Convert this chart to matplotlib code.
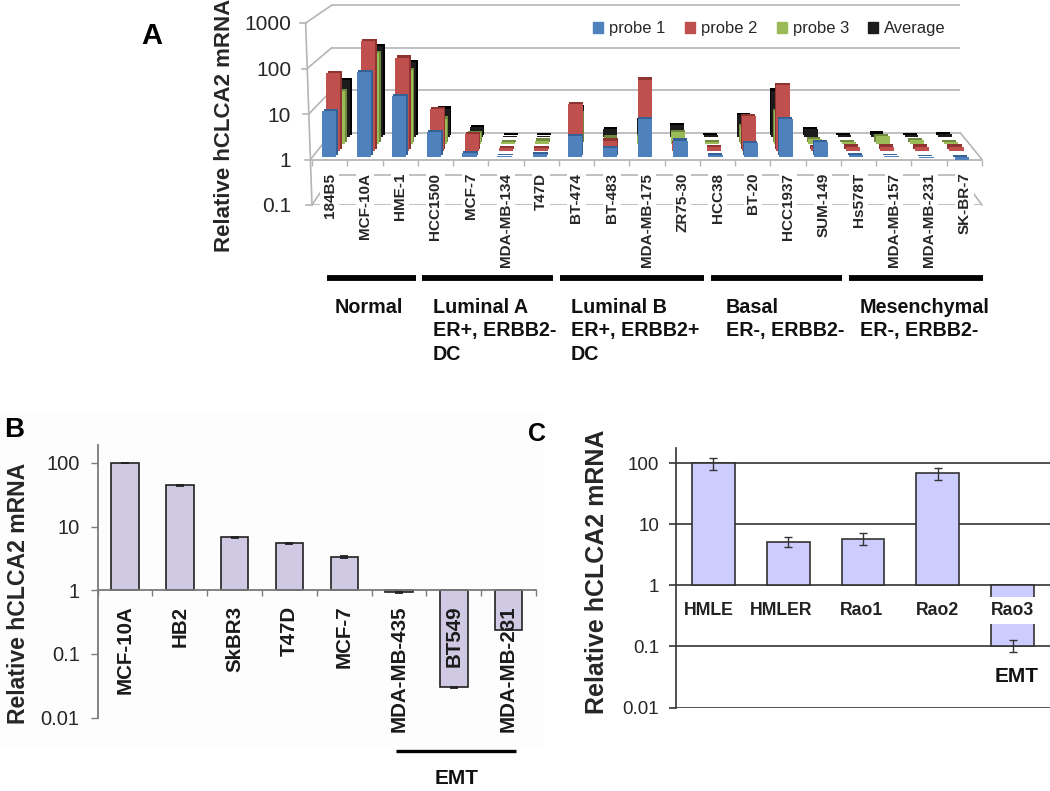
import numpy as np
import matplotlib
matplotlib.use("Agg")
import matplotlib.pyplot as plt
import matplotlib.patheffects as pe
from matplotlib.patches import ConnectionPatch, Patch, Rectangle
from matplotlib.ticker import NullLocator

plt.rcParams['font.family'] = ['Liberation Sans', 'DejaVu Sans']

# ---------- data ----------
cells_a = ['184B5', 'MCF-10A', 'HME-1', 'HCC1500', 'MCF-7', 'MDA-MB-134', 'T47D', 'BT-474', 'BT-483',
           'MDA-MB-175', 'ZR75-30', 'HCC38', 'BT-20', 'HCC1937', 'SUM-149', 'Hs578T', 'MDA-MB-157',
           'MDA-MB-231', 'SK-BR-7']
probe1 = [10.5, 75, 22, 3.6, 1.2, 1.06, 1.15, 2.9, 1.6, 7, 2.3, 1.1, 2, 7, 2.1, 1.1, 1.03, 0.95, 0.88]
probe2 = [55, 290, 125, 8.5, 2.4, 1.15, 1.15, 11, 1.7, 40, 1.5, 1.2, 6, 30, 1.2, 1.25, 1.25, 1.25, 1.25]
probe3 = [16, 120, 50, 3.8, 1.8, 1.1, 1.2, 5, 1.4, 1.5, 1.9, 1.1, 2.6, 5.7, 1.3, 1.1, 1.5, 1.25, 1.1]
average = [21, 130, 55, 4.6, 1.7, 1.08, 1.08, 4.9, 1.5, 2.5, 1.9, 1.1, 3.2, 12, 1.5, 1.1, 1.2, 1.1, 1.15]
series_names = ['probe 1', 'probe 2', 'probe 3', 'Average']
groups_a = ['Normal', 'Luminal A\nER+, ERBB2-\nDC', 'Luminal B\nER+, ERBB2+\nDC', 'Basal\nER-, ERBB2-',
            'Mesenchymal\nER-, ERBB2-']

cells_b = ['MCF-10A', 'HB2', 'SkBR3', 'T47D', 'MCF-7', 'MDA-MB-435', 'BT549', 'MDA-MB-231']
values_b = [100, 44.5, 6.8, 5.5, 3.35, 0.94, 0.03, 0.24]
errors_b = [1, 1.2, 0.15, 0.12, 0.08, 0.03, 0.0005, 0.003]

cells_c = ['HMLE', 'HMLER', 'Rao1', 'Rao2', 'Rao3']
values_c = [100, 5.2, 5.8, 69, 0.103]
upper_c = [122, 6.1, 7.1, 84.7, 0.128]
lower_c = [77, 4.2, 4.6, 53.5, 0.081]

ticks_a = [0.1, 1, 10, 100, 1000]
ticks_bc = [0.01, 0.1, 1, 10, 100]

# ---------- layout helpers ----------
W, H = 1050, 791
fig = plt.figure(figsize=(W / 100, H / 100), dpi=100, facecolor='white')


def px_axes(left, top, right, bottom, zorder=1):
    a = fig.add_axes([left / W, 1 - bottom / H, (right - left) / W, (bottom - top) / H], zorder=zorder)
    a.patch.set_alpha(0)
    return a


def ftext(x, y, s, **kw):
    return fig.text(x / W, 1 - y / H, s, **kw)


def fline(x0, x1, y, lw):
    fig.add_artist(plt.Line2D([x0 / W, x1 / W], [1 - y / H] * 2, color='black', lw=lw, solid_capstyle='butt'))


fig.add_artist(Rectangle((0, 1 - 748 / H), 543 / W, 335 / H, color='#fdfdfd', zorder=-5,
                         transform=fig.transFigure))

GREY = '#b5b5b5'
TXT = '#262626'

# ---------- panel A ----------
wall = px_axes(332, 5, 960, 175, zorder=1)
wall.set_yscale('log')
wall.set_ylim(0.1, 1000)
wall.set_xlim(0, 19)
wall.axis('off')
wall.hlines(ticks_a, 0, 19, color=GREY, lw=1.2, clip_on=False)

front = px_axes(312, 23, 982, 205, zorder=2)
front.set_yscale('log')
front.set_ylim(0.1, 1000)
front.set_xlim(0, 19)
for s in ['top', 'right', 'left']:
    front.spines[s].set_visible(False)
front.spines['bottom'].set_position(('data', 1))
front.spines['bottom'].set_color(GREY)
front.spines['bottom'].set_linewidth(1.3)
front.set_xticks(range(20), [''] * 20)
front.tick_params(axis='x', which='major', length=4, width=1, color=GREY)
front.set_xticks(np.arange(19) + 0.5, cells_a, minor=True, rotation=90, fontsize=11, fontweight='bold', color=TXT)
front.tick_params(axis='x', which='minor', length=0, pad=9.5)
for lab in front.get_xticklabels(minor=True):
    lab.set_bbox(dict(facecolor='white', edgecolor='none', pad=1.5))
front.yaxis.set_minor_locator(NullLocator())
front.set_yticks(ticks_a, ['0.1', '1', '10', '100', '1000'], fontsize=15, color=TXT)
front.tick_params(axis='y', which='major', length=0, pad=15)
front.hlines(0.1, 0, 19, color=GREY, lw=1.2, zorder=0)


def slant(v):
    return -(np.log10(v) + 1) * 0.045


front.plot([slant(0.1), slant(1000)], [0.1, 1000], color=GREY, lw=1.2, clip_on=False)
for v in ticks_a:
    front.plot([slant(v) - 0.16, slant(v)], [v, v], color=GREY, lw=1.2, clip_on=False)
    fig.add_artist(ConnectionPatch(xyA=(slant(v), v), coordsA=front.transData, xyB=(0, v), coordsB=wall.transData,
                                   color=GREY, lw=1.2, zorder=0.5))
for v in [0.1, 1]:
    fig.add_artist(ConnectionPatch(xyA=(19, v), coordsA=front.transData, xyB=(19, v), coordsB=wall.transData,
                                   color=GREY, lw=1.2, zorder=0.5))

series_vals = [average, probe3, probe2, probe1]
series_cols = ['#1c1c1c', '#9BBB59', '#C0504D', '#4F81BD']
series_dark = ['#000000', '#6f8a3c', '#8f3431', '#356196']
series_t = [0.85, 0.59, 0.34, 0.11]
for k, (vals, col, dark, t) in enumerate(zip(series_vals, series_cols, series_dark, series_t)):
    y1 = 160 - 27 * t
    dec = 45.5 - 3 * t
    p = px_axes(309 + 20 * t, y1 - 3 * dec, 982 - 24 * t, y1 + dec, zorder=3 + k)
    p.set_yscale('log')
    p.set_ylim(0.1, 1000)
    p.set_xlim(0, 19)
    p.axis('off')
    bars = p.bar(np.arange(19) + 0.5, np.array(vals) - 1, bottom=1, width=0.41, color=col, lw=0, clip_on=False)
    for i, b in enumerate(bars):
        dx = 1.4 * (1 - i / 9)
        b.set_path_effects([pe.SimplePatchShadow(offset=(dx, 1.6), shadow_rgbFace=dark, alpha=1), pe.Normal()])

leg = front.legend(handles=[Patch(color=c, label=n) for c, n in zip(series_cols[::-1], series_names)], ncol=4,
                   frameon=False, fontsize=11.9, handlelength=0.62, handleheight=0.62, handletextpad=0.35,
                   columnspacing=1.17, loc='center', bbox_to_anchor=(769.5 / W, 1 - 29 / H),
                   bbox_transform=fig.transFigure, labelcolor=TXT, borderpad=0)
leg.set_zorder(20)

ftext(225, 125, 'Relative hCLCA2 mRNA', rotation=90, fontsize=16, fontweight='bold', color=TXT, ha='center', va='center')
ftext(152, 36, 'A', fontsize=21, fontweight='bold', color='black', ha='center', va='center')

spans = [(327, 416), (422, 553), (560, 704), (711, 842), (849, 983)]
lefts = [335, 433, 571, 726, 860]
for (x0, x1), lx, g in zip(spans, lefts, groups_a):
    fline(x0, x1, 278, 4.2)
    ftext(lx, 298, g, fontsize=14.2, fontweight='bold', color='#111111', ha='left', va='top', linespacing=1.29)

# ---------- panel B ----------
ab = px_axes(97.7, 444.8, 536, 717.6)
ab.set_yscale('log')
ab.set_ylim(0.01, 193)
ab.set_xlim(0, 8)
for s in ['top', 'right']:
    ab.spines[s].set_visible(False)
ab.spines['bottom'].set_position(('data', 1))
for s in ['bottom', 'left']:
    ab.spines[s].set_color('#7a7a7a')
    ab.spines[s].set_linewidth(1.3)
xb = np.arange(8) + 0.5
ab.bar(xb, np.array(values_b) - 1, bottom=1, width=0.5, color='#D0C9E3', edgecolor='#222222', lw=1.2)
ab.errorbar(xb, values_b, yerr=errors_b, fmt='none', ecolor='#222222', elinewidth=1, capsize=3, capthick=1.3)
ab.set_xticks(range(9), [''] * 9)
ab.tick_params(axis='x', which='major', length=4.5, width=1, color='#7a7a7a')
ab.set_xticks(xb, cells_b, minor=True, rotation=90, fontsize=14.8, fontweight='bold', color='#1a1a1a')
ab.tick_params(axis='x', which='minor', length=0, pad=11)
ab.yaxis.set_minor_locator(NullLocator())
ab.set_yticks(ticks_bc, ['0.01', '0.1', '1', '10', '100'], fontsize=14.5, color=TXT)
ab.tick_params(axis='y', which='major', length=5, width=1, color='#7a7a7a', pad=8)
ftext(19, 593, 'Relative hCLCA2 mRNA', rotation=90, fontsize=16.6, fontweight='bold', color=TXT, ha='center', va='center')
ftext(14, 430, 'B', fontsize=20, fontweight='bold', color='black', ha='center', va='center')
fline(396, 515.5, 751, 2.4)
ftext(457, 778, 'EMT', fontsize=15, fontweight='bold', color='#111111', ha='center', va='center')

# ---------- panel C ----------
ac = px_axes(676, 448, 1050, 707.5)
ac.set_yscale('log')
ac.set_ylim(0.01, 178)
ac.set_xlim(0, 5)
for s in ['top', 'right', 'bottom']:
    ac.spines[s].set_visible(False)
ac.spines['left'].set_color('#333333')
ac.spines['left'].set_linewidth(1.2)
ac.set_axisbelow(True)
ac.grid(axis='y', which='major', color='#333333', lw=1.2)
xc = np.arange(5) + 0.5
ac.bar(xc, np.array(values_c) - 1, bottom=1, width=0.57, color='#CCCCFF', edgecolor='#333333', lw=1.2, zorder=2)
ac.errorbar(xc, values_c, yerr=[np.array(values_c) - np.array(lower_c), np.array(upper_c) - np.array(values_c)],
            fmt='none', ecolor='#333333', elinewidth=1, capsize=3.2, capthick=1, zorder=3)
ac.set_xticks([])
ac.yaxis.set_minor_locator(NullLocator())
ac.set_yticks(ticks_bc, ['0.01', '0.1', '1', '10', '100'], fontsize=13.5, color=TXT)
ac.tick_params(axis='y', which='major', length=5, width=1.2, color='#333333', pad=7)
for x, lab, off in zip(xc, cells_c, [-5, -6.6, -1.3, 0, 0]):
    ac.annotate(lab, xy=(x, 1), xytext=(off * 0.72, -18), textcoords='offset points', ha='center', va='center',
                fontsize=12.7, fontweight='bold', color='#222222', zorder=5,
                bbox=dict(facecolor='white', edgecolor='none', pad=3.6))
ftext(597, 572, 'Relative hCLCA2 mRNA', rotation=90, fontsize=18, fontweight='bold', color=TXT, ha='center', va='center')
ftext(537, 434, 'C', fontsize=18, fontweight='bold', color='black', ha='center', va='center')
ftext(1017, 676, 'EMT', fontsize=15, fontweight='bold', color='#111111', ha='center', va='center')

fig.savefig('out.png', dpi=100)
